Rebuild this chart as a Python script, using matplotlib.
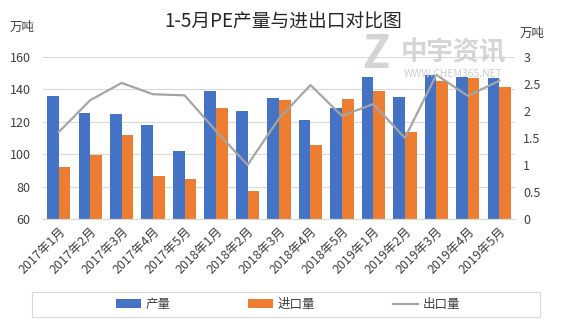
import numpy as np
from matplotlib import pyplot as plt
from matplotlib.patches import Rectangle

plt.rcParams['font.family'] = ['Noto Sans CJK SC', 'DejaVu Sans']

# Data
months = ['2017年1月', '2017年2月', '2017年3月', '2017年4月', '2017年5月',
          '2018年1月', '2018年2月', '2018年3月', '2018年4月', '2018年5月',
          '2019年1月', '2019年2月', '2019年3月', '2019年4月', '2019年5月']
output = [136, 125.5, 125, 118.2, 102.2, 139, 126.7, 134.7, 121.2, 128.6,
          147.5, 135.3, 149, 147.5, 147]      # 产量 (left axis)
imports = [92.4, 99.8, 112, 86.3, 84.5, 128.6, 77.1, 133.5, 105.9, 134.1,
           139, 113.9, 145.3, 147, 141.4]     # 进口量 (left axis)
exports = [1.61, 2.2, 2.52, 2.31, 2.29, 1.63, 1.0, 1.86, 2.48, 1.91,
           2.13, 1.5, 2.67, 2.28, 2.56]       # 出口量 (right axis)

blue = '#4472C4'
orange = '#ED7D31'
gray = '#A5A5A5'
grid = '#D9D9D9'
txt = '#404040'

fig = plt.figure(figsize=(5.67, 3.24), dpi=100)
ax = fig.add_axes([43 / 567, 1 - 219 / 324, (515 - 43) / 567, (219 - 57) / 324])
ax2 = ax.twinx()

x = np.arange(len(months))
w = 0.37
b1 = ax.bar(x - w / 2, output, w, color=blue, label='产量', zorder=2)
b2 = ax.bar(x + w / 2, imports, w, color=orange, label='进口量', zorder=2)
l1, = ax2.plot(x, exports, color=gray, lw=1.6, label='出口量', zorder=3)

ax.set_xlim(-0.5, len(months) - 0.5)
ax.set_ylim(60, 160)
ax.set_yticks(range(60, 161, 20))
ax2.set_ylim(0, 3)
ax2.set_yticks([0, 0.5, 1, 1.5, 2, 2.5, 3])
ax2.set_yticklabels(['0', '0.5', '1', '1.5', '2', '2.5', '3'])

ax.yaxis.grid(True, color=grid, lw=0.8, zorder=0)
ax.set_axisbelow(True)
for a in (ax, ax2):
    for s in ('top', 'left', 'right'):
        a.spines[s].set_visible(False)
    a.spines['bottom'].set_color(grid)
    a.tick_params(length=0, labelsize=9, colors=txt)
ax.tick_params(axis='y', pad=9)
ax2.tick_params(axis='y', pad=6)

ax.set_xticks(x)
ax.set_xticklabels(months, rotation=45, ha='right', rotation_mode='anchor', fontsize=9)
ax.tick_params(axis='x', pad=4)

fig.text(0.5, 1 - 22 / 324, '1-5月PE产量与进出口对比图', ha='center', va='center',
         fontsize=13.5, color='#262626')
fig.text(10 / 567, 1 - 27 / 324, '万吨', ha='left', va='center', fontsize=9, color=txt)
fig.text(520 / 567, 1 - 33 / 324, '万吨', ha='left', va='center', fontsize=9, color=txt)

# faint watermark
fig.text(376 / 567, 1 - 55 / 324, 'Z', ha='center', va='center', fontsize=32,
         fontweight='bold', color='#C8C8C8', alpha=0.75, zorder=5)
fig.text(453 / 567, 1 - 53 / 324, '中宇资讯', ha='center', va='center', fontsize=19,
         fontweight='bold', color='#C8C8C8', alpha=0.75, zorder=5)
fig.text(453 / 567, 1 - 74 / 324, 'WWW.CHEM365.NET', ha='center', va='center', fontsize=7.5,
         color='#C8C8C8', alpha=0.9, zorder=5)

fig.legend([b1, b2, l1], ['产量', '进口量', '出口量'], loc='center',
           bbox_to_anchor=(288 / 567, 1 - 304.5 / 324), ncol=3, frameon=False,
           fontsize=9, handlelength=2.0, handleheight=0.7, columnspacing=6.2,
           handletextpad=0.4, labelcolor=txt)
fig.patches.append(Rectangle((32 / 567, 1 - 317 / 324), 508 / 567, 25 / 324,
                             transform=fig.transFigure, fill=False,
                             edgecolor=grid, lw=0.8))

fig.savefig('out.png', dpi=100)
